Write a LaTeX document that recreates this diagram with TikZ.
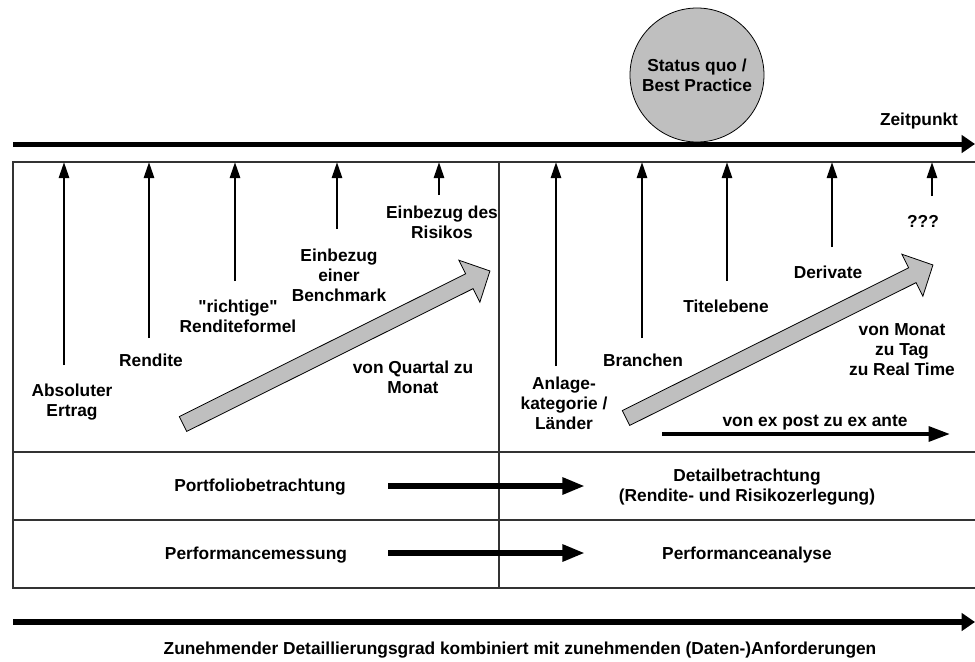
\documentclass[tikz,border=0pt]{standalone}
\usepackage{fontspec}
\setmainfont{Liberation Sans}[Ligatures=TeXOff]
\usetikzlibrary{arrows.meta}
\begin{document}
\begin{tikzpicture}[x=0.75pt,y=-0.75pt,
  lbl/.style={font=\fontsize{13}{15}\selectfont\bfseries, align=center, inner sep=0pt},
  tick/.style={line width=2pt, -{Triangle[length=12pt,width=7.5pt]}},
  axis/.style={line width=3.75pt, -{Triangle[length=10pt,width=13pt]}},
  shiftarrow/.style={line width=4.5pt, -{Triangle[length=17pt,width=12pt]}},
  exarrow/.style={line width=3pt, -{Triangle[length=16pt,width=11pt]}},
  frame/.style={draw=black!80, line width=1pt},
  hollow/.style={draw=black, line width=0.6pt, fill=black!25, line join=miter},
  statusball/.style={circle, draw=black, line width=0.6pt, fill=black!25,
    minimum size=100.5pt, inner sep=0pt, align=center,
    font=\fontsize{13}{15}\selectfont\bfseries}
]
\useasboundingbox (0,0) rectangle (975,661);

% ---- time axis and reference point ----
\coordinate (axis-l) at (13,144);
\coordinate (axis-r) at (975,144);
\node[statusball] (status) at (697,75) {Status quo /\\Best Practice};
\draw[axis] (axis-l) -- (axis-r);
\node[lbl] (zeit) at (919,121) {Zeitpunkt};

% ---- table frame ----
\draw[frame] (975,162) -- (13,162) -- (13,588) -- (975,588);
\draw[frame] (13,452) -- (975,452);
\draw[frame] (13,520) -- (975,520);
\draw[frame] (499,162) -- (499,588);

% ---- milestone arrows ----
\foreach \name/\x/\yb in {a1/64/365, a2/149/338, a3/235/281, a4/337/229, a5/439/195,
                          b1/556/366, b2/642/338, b3/727/281, b4/832/247, b5/932/196}{
  \coordinate (\name-foot) at (\x,\yb);
  \coordinate (\name-tip) at (\x,162);
  \draw[tick] (\name-foot) -- (\name-tip);
}

% ---- milestones, left half ----
\node[lbl] (l1) at (72,402) {Absoluter\\Ertrag};
\node[lbl] (l2) at (151,360) {Rendite};
\node[lbl] (l3) at (238,316) {"richtige"\\Renditeformel};
\node[lbl] (l4) at (339,275) {Einbezug\\einer\\Benchmark};
\node[lbl] (l5) at (442,222) {Einbezug des\\Risikos};
\node[lbl] (lq) at (413,377) {von Quartal zu\\Monat};

% ---- milestones, right half ----
\node[lbl] (r1) at (564,403) {Anlage-\\kategorie /\\Länder};
\node[lbl] (r2) at (643,360) {Branchen};
\node[lbl] (r3) at (726,306) {Titelebene};
\node[lbl] (r4) at (828,272) {Derivate};
\node[lbl] (r5) at (923,221) {???};
\node[lbl] (rm) at (902,350) {von Monat\\zu Tag\\zu Real Time};

% ---- frequency arrows (hollow, grey) ----
\foreach \sx/\sy in {183/424, 626/418}{
  \begin{scope}[shift={(\sx,\sy)}, rotate=26.5]
    \draw[hollow] (0,-8.3) -- (320,-8.3) -- (320,-23.5) -- (343,0)
                  -- (320,23.5) -- (320,8.3) -- (0,8.3) -- cycle;
  \end{scope}
}

% ---- ex post / ex ante ----
\node[lbl] (exlbl) at (815,423) {von ex post zu ex ante};
\coordinate (ex-l) at (662,434);
\coordinate (ex-r) at (950,434);
\draw[exarrow] (ex-l) -- (ex-r);

% ---- lower rows ----
\node[lbl] (pf) at (260,487) {Portfoliobetrachtung};
\node[lbl] (dt) at (747,487) {Detailbetrachtung\\(Rendite- und Risikozerlegung)};
\node[lbl] (pm) at (256,555) {Performancemessung};
\node[lbl] (pa) at (747,555) {Performanceanalyse};
\coordinate (pf-s) at (388,486);
\coordinate (pf-e) at (585,486);
\coordinate (pm-s) at (388,553);
\coordinate (pm-e) at (585,553);
\draw[shiftarrow] (pf-s) -- (pf-e);
\draw[shiftarrow] (pm-s) -- (pm-e);

% ---- detail axis ----
\coordinate (det-l) at (13,622);
\coordinate (det-r) at (975,622);
\draw[axis, line width=4.5pt] (det-l) -- (det-r);
\node[lbl] (detlbl) at (520,650) {Zunehmender Detaillierungsgrad kombiniert mit zunehmenden (Daten-)Anforderungen};
\end{tikzpicture}
\end{document}
